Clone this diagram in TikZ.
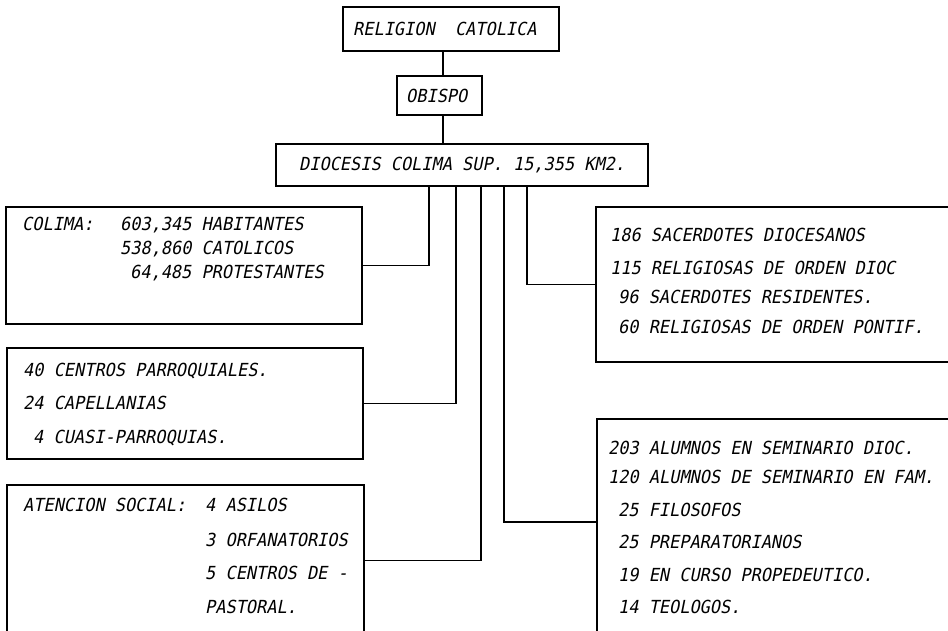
\documentclass[tikz,border=0pt]{standalone}
\usepackage{fontspec}
\newfontfamily\tw{DejaVu Sans Mono}[FakeSlant=0.2, FakeStretch=0.94]
\begin{document}
\begin{tikzpicture}[x=1pt,y=-1pt,
  box/.style={draw, line width=1.3pt, rectangle, inner sep=0pt},
  txt/.style={anchor=west, inner sep=0pt, text height=13.1pt, text depth=0pt,
    font=\tw\fontsize{18}{21}\selectfont},
  link/.style={line width=1.3pt}]
\clip (0,0) rectangle (948,631);
\fill[white] (0,0) rectangle (948,631);
% boxes
\node[box, minimum width=216pt, minimum height=44pt] (rel) at (451,29) {};
\node[box, minimum width=85pt, minimum height=39pt] (obi) at (439.5,95.5) {};
\node[box, minimum width=372pt, minimum height=42pt] (dio) at (462,165) {};
\node[box, minimum width=356pt, minimum height=117pt] (col) at (184,265.5) {};
\node[box, minimum width=356pt, minimum height=111pt] (par) at (185,403.5) {};
\node[box, minimum width=357pt, minimum height=151pt] (soc) at (185.5,560.5) {};
\node[box, minimum width=420pt, minimum height=155pt] (sac) at (806,284.5) {};
\node[box, minimum width=420pt, minimum height=260pt] (alu) at (807,549) {};
% texts
\node[txt] (trel) at (353,29) {RELIGION\ \ CATOLICA};
\node[txt] (tobi) at (406,96) {OBISPO};
\node[txt] (tdio) at (299,164) {DIOCESIS COLIMA SUP. 15,355 KM2.};
\node[txt] (tc0) at (22,224) {COLIMA:};
\node[txt] (tc1) at (120,224) {603,345 HABITANTES};
\node[txt] (tc2) at (120,248) {538,860 CATOLICOS};
\node[txt] (tc3) at (130,272) {64,485 PROTESTANTES};
\node[txt] (tp1) at (23,370) {40 CENTROS PARROQUIALES.};
\node[txt] (tp2) at (23,403) {24 CAPELLANIAS};
\node[txt] (tp3) at (33,437) {4 CUASI-PARROQUIAS.};
\node[txt] (ts0) at (23,505) {ATENCION SOCIAL:};
\node[txt] (ts1) at (205,505) {4 ASILOS};
\node[txt] (ts2) at (205,540) {3 ORFANATORIOS};
\node[txt] (ts3) at (205,573) {5 CENTROS DE -};
\node[txt] (ts4) at (205,607) {PASTORAL.};
\node[txt] (tr1) at (610,235) {186 SACERDOTES DIOCESANOS};
\node[txt] (tr2) at (610,268) {115 RELIGIOSAS DE ORDEN DIOC};
\node[txt] (tr3) at (618,297) {96 SACERDOTES RESIDENTES.};
\node[txt] (tr4) at (618,327) {60 RELIGIOSAS DE ORDEN PONTIF.};
\node[txt] (ta1) at (608,448) {203 ALUMNOS EN SEMINARIO DIOC.};
\node[txt] (ta2) at (608,477) {120 ALUMNOS DE SEMINARIO EN FAM.};
\node[txt] (ta3) at (618,510) {25 FILOSOFOS};
\node[txt] (ta4) at (618,542) {25 PREPARATORIANOS};
\node[txt] (ta5) at (618,575) {19 EN CURSO PROPEDEUTICO.};
\node[txt] (ta6) at (618,607) {14 TEOLOGOS.};
% connector columns
\coordinate (c0) at (443,0);
\coordinate (c1) at (429,0);
\coordinate (c2) at (456,0);
\coordinate (c3) at (481,0);
\coordinate (c4) at (504,0);
\coordinate (c5) at (527,0);
\coordinate (l4) at (0,522);
% connectors
\draw[link] (rel.south -| c0) -- (obi.north -| c0);
\draw[link] (obi.south -| c0) -- (dio.north -| c0);
\draw[link] (dio.south -| c1) |- (col.east);
\draw[link] (dio.south -| c2) |- (par.east);
\draw[link] (dio.south -| c3) |- (soc.east);
\draw[link] (dio.south -| c4) |- (alu.west |- l4);
\draw[link] (dio.south -| c5) |- (sac.west);
\end{tikzpicture}
\end{document}
